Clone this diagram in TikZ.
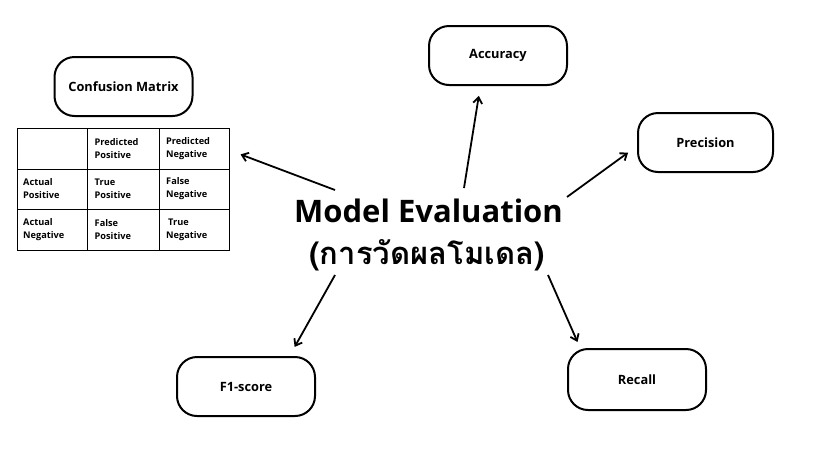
\documentclass[tikz,border=0pt]{standalone}
\usepackage{fontspec}
\setmainfont{Open Sans}
\newfontfamily\thaifont[Script=Thai]{Loma}
\usetikzlibrary{arrows.meta}
\begin{document}
\begin{tikzpicture}[x=1pt,y=-1pt,
  box/.style={draw, line width=2pt, rounded corners=20pt, minimum width=138pt, minimum height=59pt, inner sep=0pt, font=\fontsize{12.8}{15}\selectfont\bfseries},
  arr/.style={line width=1.8pt, -{Straight Barb[length=6pt,width=9pt,line width=1.8pt]}},
  cell/.style={anchor=west, align=left, inner sep=0pt, font=\fontsize{9.2}{13}\selectfont\bfseries},
  grid/.style={line width=1pt}]
\useasboundingbox (0,0) rectangle (826,451);
% boxes
\node[box] (cmx) at (123.5,86.5) {Confusion Matrix};
\node[box] (acc) at (498,55.5) {Accuracy};
\node[box, minimum width=135pt] (pre) at (705.5,142.5) {Precision};
\node[box] (f1) at (246,386.5) {F1-score};
\node[box, minimum height=61pt] (rec) at (637,379.5) {Recall};
% table
\node[draw, grid, minimum width=212pt, minimum height=122pt, inner sep=0pt] (cm) at (123,189) {};
\draw[grid] (87,128) -- (87,250) (159,128) -- (159,250) (17,169) -- (229,169) (17,209) -- (229,209);
\node[cell] (c12) at (94.5,149) {Predicted\\Positive};
\node[cell] (c13) at (166,149) {Predicted\\Negative};
\node[cell] (c21) at (23,189) {Actual\\Positive};
\node[cell] (c22) at (94.5,189) {True\\Positive};
\node[cell] (c23) at (166,189) {False\\Negative};
\node[cell] (c31) at (23,229.5) {Actual\\Negative};
\node[cell] (c32) at (94.5,229.5) {False\\Positive};
\node[cell] (c33) at (166,229.5) {\hspace*{2pt}True\\Negative};
% central text
\node[inner sep=0pt, font=\fontsize{31}{31}\selectfont\bfseries] (me) at (428.5,211) {Model Evaluation};
\node[inner sep=0pt, font=\fontsize{31}{31}\selectfont\bfseries\thaifont] (th) at (427,255) {(การวัดผลโมเดล)};
% arrow starts
\coordinate (sC) at (335,190);
\coordinate (sA) at (464,188);
\coordinate (sP) at (567,197);
\coordinate (sF) at (335,275);
\coordinate (sR) at (548,275);
% arrows
\draw[arr, shorten >=11.8pt] (sC) -- (cm.20.8);
\draw[arr, shorten >=10pt] (sA) -- (acc.240);
\draw[arr, shorten >=11pt] (sP) -- (pre.183.5);
\draw[arr, shorten >=10.4pt] (sF) -- (f1.35.2);
\draw[arr, shorten >=6.6pt] (sR) -- (rec.151.6);
\end{tikzpicture}
\end{document}
